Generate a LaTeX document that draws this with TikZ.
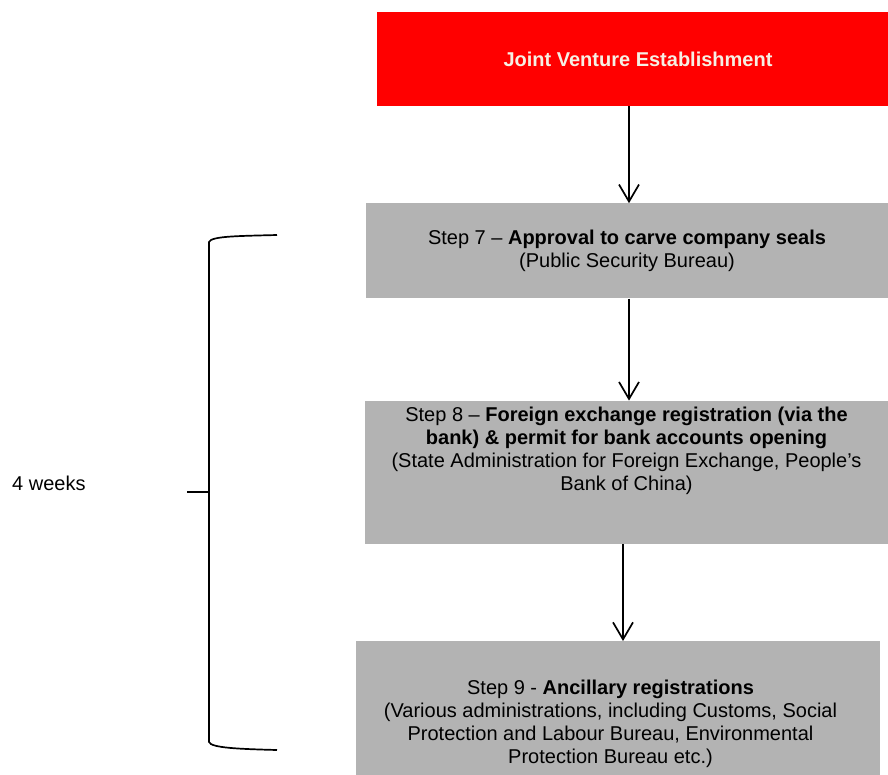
\documentclass[tikz,border=0pt]{standalone}
\usepackage{fontspec}
\setmainfont{Liberation Sans}
\usetikzlibrary{positioning, arrows.meta}

\definecolor{jvred}{RGB}{255,0,0}
\definecolor{stepgrey}{RGB}{179,179,179}
\definecolor{jvtext}{RGB}{246,240,228}

\begin{document}
\begin{tikzpicture}[x=1pt, y=1pt,
box/.style={draw=none, rectangle, inner sep=0pt},
stepbox/.style={box, fill=stepgrey},
txt/.style={align=center, inner sep=0pt, font=\fontsize{20}{23}\selectfont},
flow/.style={-{Straight Barb[length=17pt, width=20pt]}, line width=1.7pt}]

\useasboundingbox (0,0) rectangle (888,-774);

% boxes
\node[box, fill=jvred, minimum width=511pt, minimum height=94pt]	(jv) at (632.5,-59) {};
\node[stepbox, minimum width=522pt, minimum height=95pt]	(s7)[below=97pt of jv, xshift=-5.5pt] {};
\node[stepbox, minimum width=523pt, minimum height=143pt]	(s8)[below=102pt of s7, xshift=-0.5pt] {};
\node[stepbox, minimum width=524pt, minimum height=134pt]	(s9)[below=97pt of s8, xshift=-8.5pt] {};

% texts
\node[txt, text=jvtext, xshift=5.5pt]	(tjv) at (jv) {\textbf{Joint Venture Establishment}};
\node[txt]	(t7) at (s7) {Step 7 – \textbf{Approval to carve company seals}\\(Public Security Bureau)};
\node[txt, yshift=21.5pt]	(t8) at (s8) {Step 8 – \textbf{Foreign exchange registration (via the}\\\textbf{bank) \& permit for bank accounts opening}\\(State Administration for Foreign Exchange, People’s\\Bank of China)};
\node[txt, xshift=-7.5pt, yshift=-15.5pt]	(t9) at (s9) {Step 9 - \textbf{Ancillary registrations}\\(Various administrations, including Customs, Social\\Protection and Labour Bureau, Environmental\\Protection Bureau etc.)};

\node[txt, anchor=base west]	(wk) at (12,-490) {4 weeks};

% arrows
\draw[flow] ([xshift=-3.5pt]jv.south) -- ([xshift=-3.5pt]jv.south |- s7.north);
\draw[flow] ([xshift=2pt]s7.south) -- ([xshift=2pt]s7.south |- s8.north);
\draw[flow] ([xshift=-3.5pt]s8.south) -- ([xshift=-3.5pt]s8.south |- s9.north);

% brace
\coordinate (bt) at (277,-235);
\coordinate (bb) at (277,-750);
\coordinate (bm) at (209,-492);
\draw[line width=1.7pt] (bt) .. controls (240,-236) and (211,-236) .. (209,-242) -- (209,-742) .. controls (211,-748) and (240,-749) .. (bb);
\draw[line width=1.7pt] ([xshift=-22pt]bm) -- (bm);

\end{tikzpicture}
\end{document}
